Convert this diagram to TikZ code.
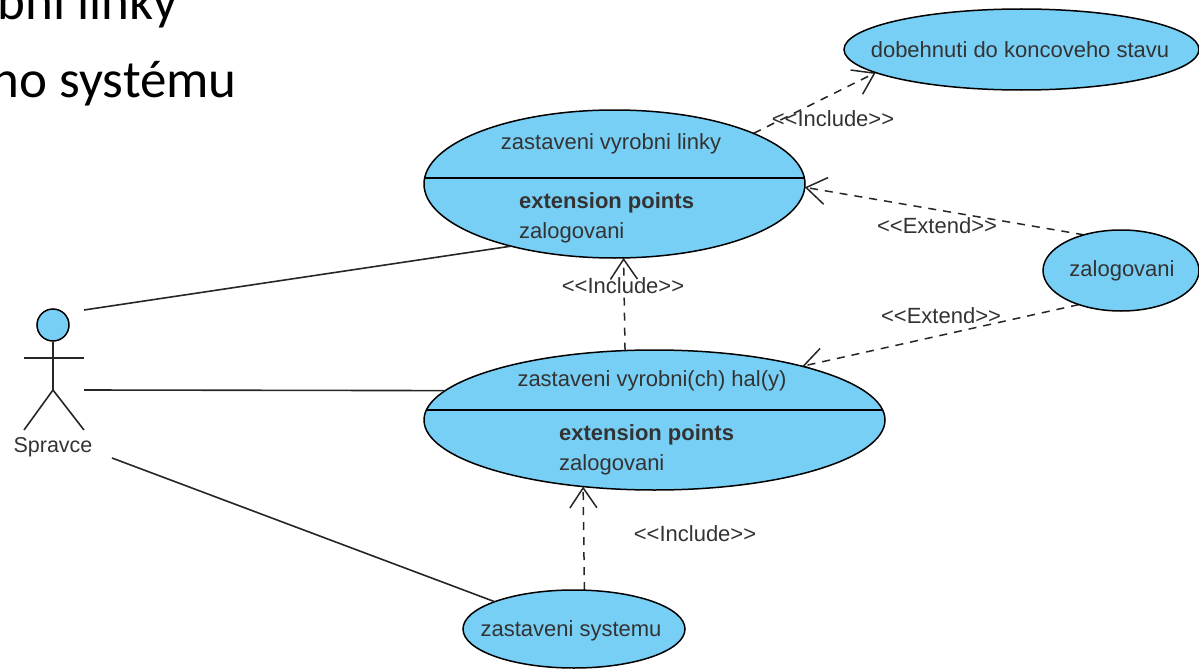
\documentclass[tikz,border=0pt]{standalone}
\usepackage{fontspec}
\usepackage{tikz}
\usetikzlibrary{arrows.meta, backgrounds, shapes.geometric}
\setmainfont[Ligatures=NoCommon]{Liberation Sans}
\newfontfamily\slidefont{Carlito}
\definecolor{usecase}{rgb}{0.47, 0.81, 0.96}
\definecolor{labelgray}{rgb}{0.2, 0.2, 0.2}
\newcommand{\stereo}[1]{<{}<#1>{}>}
\tikzset{
  usecase/.style={draw=black, fill=usecase, shape=ellipse, line width=1.5pt, inner sep=0pt, outer sep=0pt},
  plainlabel/.style={text=labelgray, inner sep=0pt, font=\fontsize{22}{24}\selectfont},
  assoc/.style={line width=1.6pt, color=black!85},
  depend/.style={line width=1.5pt, color=black!85, dash pattern=on 8pt off 7pt, -{Straight Barb[length=20pt,width=27pt,line width=1.5pt]}},
  slidetext/.style={anchor=base east, inner sep=0pt, font=\slidefont\fontsize{53}{56}\selectfont},
}
\begin{document}
\begin{tikzpicture}[x=1pt, y=-1pt]
  \useasboundingbox (0,0) rectangle (1199,669);
  \clip (0,0) rectangle (1199,669);

  % draws the slide text behind the diagram
  \node [slidetext] (slideA) at (178,20) {bni linky};
  \node [slidetext] (slideB) at (237,97) {ho systému};

  % draws the use cases
  \node [usecase, minimum width=355pt, minimum height=81pt] (dobeh) at (1021.5,49.5) {};
  \node [usecase, minimum width=156pt, minimum height=81pt] (zalog) at (1121,270.5) {};
  \node [usecase, minimum width=381pt, minimum height=148pt] (linky) at (614.5,184) {};
  \node [usecase, minimum width=461pt, minimum height=140pt] (haly) at (654.5,420) {};
  \node [usecase, minimum width=222pt, minimum height=78pt] (system) at (574,629) {};

  % draws the compartments
  \draw [line width=1.5pt] (424.6,178) -- (804.4,178);
  \draw [line width=1.5pt] (426.5,410) -- (882.5,410);
  \node [plainlabel] (dobehName) at (1020,50) {dobehnuti do koncoveho stavu};
  \node [plainlabel] (zalogName) at (1122,271) {zalogovani};
  \node [plainlabel] (linkyName) at (611,144) {zastaveni vyrobni linky};
  \node [plainlabel] (halyName) at (652,381) {zastaveni vyrobni(ch) hal(y)};
  \node [plainlabel] (systemName) at (571,631) {zastaveni systemu};
  \foreach \name/\x/\y in {linky/519/203, haly/559/435}
    \node [plainlabel, anchor=west, font=\fontsize{22}{24}\selectfont\bfseries] (\name Ext) at (\x,\y) {extension points};
  \foreach \name/\x/\y in {linky/519/233, haly/559/465}
    \node [plainlabel, anchor=west] (\name Point) at (\x,\y) {zalogovani};

  % draws the actor
  \coordinate (hip) at (53,390);
  \node [draw=black, fill=usecase, shape=circle, line width=1.5pt, minimum size=32pt, inner sep=0pt] (head) at (53,325) {};
  \draw [assoc] (head) -- (hip);
  \draw [assoc] (24,358) -- (84,358);
  \draw [assoc] (24,430) -- (hip) -- (84,430);
  \node [plainlabel, font=\fontsize{21.5}{24}\selectfont] (spravce) at (53,447) {Spravce};

  % draws the associations
  \coordinate (actorTop) at (84,310);
  \coordinate (actorMid) at (84,390);
  \coordinate (actorLow) at (112,458);
  \draw [assoc] (actorTop) -- (linky.211.6);
  \draw [assoc] (actorMid) -- (haly.172.1);
  \draw [assoc] (actorLow) -- (system.161.6);

  % draws the dependencies
  \begin{scope}[on background layer]
    \draw [depend] (linky.20) -- (dobeh.189.8);
    \draw [depend] (zalog.136) -- (linky.359);
    \draw [depend] (zalog.219) -- (haly.20);
    \draw [depend] (haly.113.5) -- (linky.277);
    \draw [depend] (system.75.6) -- (haly.223.4);
  \end{scope}

  \foreach \x/\y [count = \n] in {833/119, 623/286, 695/534}
    \node [plainlabel] (include\n) at (\x,\y) {\stereo{Include}};
  \foreach \x/\y [count = \n] in {937/226, 941/316}
    \node [plainlabel] (extend\n) at (\x,\y) {\stereo{Extend}};
\end{tikzpicture}
\end{document}
